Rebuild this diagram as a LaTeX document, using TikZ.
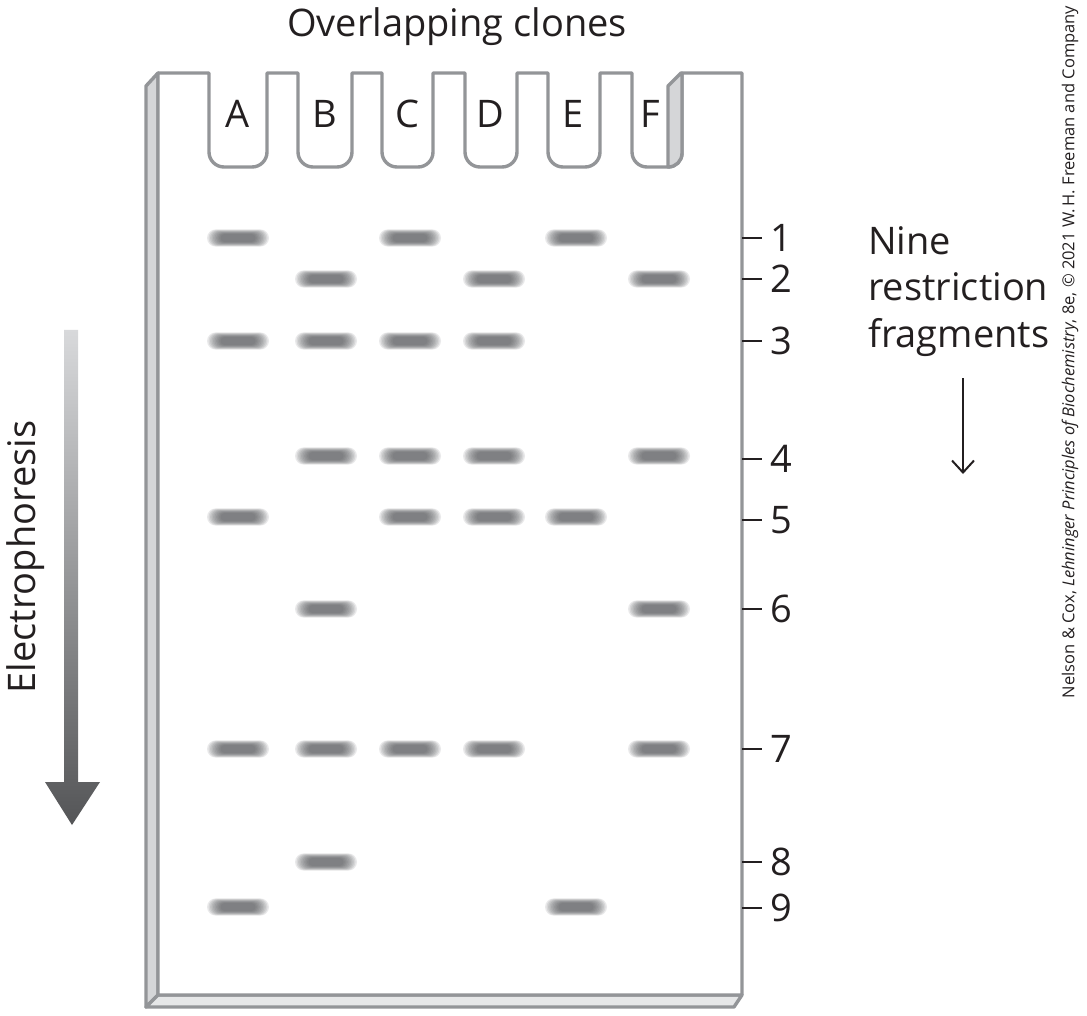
\documentclass[tikz,border=0pt]{standalone}
\usepackage{fontspec}
\setmainfont{Open Sans}
\usetikzlibrary{arrows.meta}
\definecolor{gelline}{HTML}{939598}
\definecolor{gelside}{HTML}{D5D6D8}
\definecolor{gelbottom}{HTML}{E6E7E8}
\definecolor{bandc}{HTML}{56575A}
\definecolor{inkc}{HTML}{231F20}
\definecolor{arrtop}{HTML}{D8D9DB}
\definecolor{arrbot}{HTML}{545557}
\newcommand\gelwell[2]{-- (#1,73) -- (#1,152) .. controls (#1,160.3) and (#1+6.7,167) .. (#1+15,167) -- (#2-15,167) .. controls (#2-6.7,167) and (#2,160.3) .. (#2,152) -- (#2,73)}
\tikzset{
  bigtext/.style={font=\fontsize{38}{44}\selectfont, text=inkc, inner sep=0pt},
  lanelabel/.style={bigtext, anchor=base},
  numlabel/.style={bigtext, anchor=west},
  tickline/.style={draw=inkc, line width=2.4pt},
  geloutline/.style={draw=gelline, line width=3.4pt, line join=round},
  band/.pic={
    \foreach \i in {0,...,9} {
      \pgfmathsetmacro{\hw}{31-\i*1.5}
      \pgfmathsetmacro{\hh}{8.6-\i*0.5}
      \fill[bandc, opacity=.125, rounded corners=\hh pt] (-\hw,-\hh) rectangle (\hw,\hh);
    }
  }
}
\begin{document}
\begin{tikzpicture}[x=1pt,y=-1pt]
\useasboundingbox (0,0) rectangle (1087,1016);
% left side face and bottom face
\filldraw[geloutline, fill=gelside] (146,86) -- (158,73) -- (158,995) -- (146,1007) -- cycle;
\filldraw[geloutline, fill=gelbottom] (158,995) -- (742,995) -- (734,1007) -- (146,1007) -- cycle;
% front face
\filldraw[geloutline, fill=white] (158,995) -- (158,73)
  \gelwell{209}{267} \gelwell{298}{352} \gelwell{382}{433}
  \gelwell{465}{517} \gelwell{548}{600}
  -- (632,73) -- (632,152) .. controls (632,160.3) and (638.7,167) .. (647,167) -- (668,167)
  .. controls (676,167) and (682,161) .. (682,153) -- (682,73) -- (742,73) -- (742,995) -- cycle;
% inner face of well F
\filldraw[geloutline, fill=gelside] (668,167) -- (668,86) -- (681,73) -- (682,73) -- (682,153) .. controls (682,161) and (676,167) .. (668,167) -- cycle;
% lane labels
\node[lanelabel] (la) at (238,128) {A};
\node[lanelabel] (lb) at (325,128) {B};
\node[lanelabel] (lc) at (407,128) {C};
\node[lanelabel] (ld) at (490,128) {D};
\node[lanelabel] (le) at (573,128) {E};
\node[lanelabel] (lf) at (650,128) {F};
% title
\node[bigtext, anchor=base] (title) at (457,37) {Overlapping clones};
% bands
\foreach \x in {238,410,576} \pic at (\x,238) {band};
\foreach \x in {326,494,659} \pic at (\x,279) {band};
\foreach \x in {238,326,410,494} \pic at (\x,341) {band};
\foreach \x in {326,410,494,659} \pic at (\x,456) {band};
\foreach \x in {238,410,494,576} \pic at (\x,517) {band};
\foreach \x in {326,659} \pic at (\x,609) {band};
\foreach \x in {238,326,410,494,659} \pic at (\x,749) {band};
\pic at (326,862) {band};
\foreach \x in {238,576} \pic at (\x,907) {band};
% ticks and fragment numbers
\foreach \n/\y in {1/238,2/279,3/341,4/459,5/520,6/609,7/749,8/862,9/908} {
  \draw[tickline] (742,\y) -- (762,\y);
  \node[numlabel] (n\n) at (770,\y) {\n};
}
% electrophoresis arrow
\shade[top color=arrtop, bottom color=arrbot]
  (64,330) -- (78,330) -- (78,782) -- (100,782) -- (72,825) -- (45,782) -- (64,782) -- cycle;
\node[bigtext, rotate=90] (electro) at (26,557) {Electrophoresis};
% nine restriction fragments
\node[bigtext, anchor=base west] (nine) at (868,255) {Nine};
\node[bigtext, anchor=base west] (restr) at (868,301) {restriction};
\node[bigtext, anchor=base west] (frag) at (868,347) {fragments};
\coordinate (fa) at (963,378);
\coordinate (fb) at (963,474);
\draw[draw=inkc, line width=2pt, -{Straight Barb[length=12pt,width=22pt]}] (fa) -- (fb);
% credit
\node[font=\fontsize{16.5}{19}\selectfont, text=inkc, rotate=90, inner sep=0pt] (credit) at (1070,352)
  {Nelson \& Cox, \textit{Lehninger Principles of Biochemistry}, 8e, \textcopyright\ 2021 W.\,H. Freeman and Company};
\end{tikzpicture}
\end{document}
